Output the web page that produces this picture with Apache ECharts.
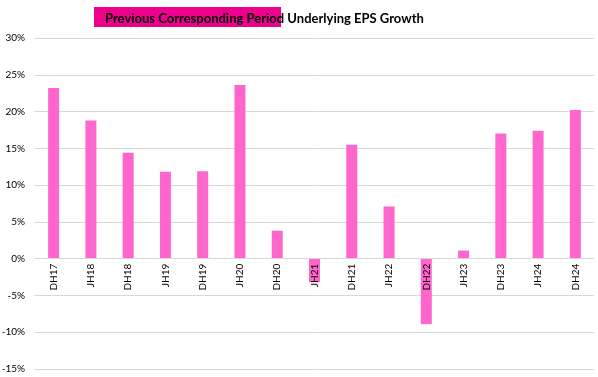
<!DOCTYPE html>
<html>
<head>
<meta charset="utf-8">
<script src="https://cdn.jsdelivr.net/npm/echarts@6/dist/echarts.min.js"></script>
<style>
	html, body { margin: 0; padding: 0; background: #fff; }
	#chart { width: 598px; height: 377px; }
</style>
</head>
<body>
<div id="chart"></div>
<script>
	var periods = [ 'DH17', 'JH18', 'DH18', 'JH19', 'DH19', 'JH20', 'DH20', 'JH21', 'DH21', 'JH22', 'DH22', 'JH23', 'DH23', 'JH24', 'DH24' ];
	// EPS growth vs previous corresponding period, in %
	var growth = [ 23.2, 18.8, 14.4, 11.8, 11.9, 23.6, 3.8, -3.2, 15.5, 7.1, -8.9, 1.1, 17.0, 17.4, 20.2 ];
	var yTicks = { min: -15, max: 30, step: 5 };

	var chart = echarts.init(document.getElementById('chart'));
	var font = 'Lato, "Open Sans", sans-serif';

	// grid box, used to put the category labels on the 0% line
	var gridTop = 38, gridBottom = 8, chartHeight = 377;
	var plotHeight = chartHeight - gridTop - gridBottom;
	var zeroOffset = plotHeight * (0 - yTicks.min) / (yTicks.max - yTicks.min);

	var options = {
		animation : false,
		title : {
			text : 'Previous Corresponding Period Underlying EPS Growth',
			left : 100,
			top : 7,
			textStyle : {
				fontFamily : font,
				fontWeight : 'bold',
				fontSize : 13,
				color : '#000'
			}
		},
		// highlighter stroke behind the title
		graphic : [ {
			type : 'rect',
			z : 0,
			shape : { x : 94, y : 7, width : 187, height : 20 },
			style : { fill : '#EC008C' }
		} ],
		grid : {
			left : 35,
			right : 4,
			top : gridTop,
			bottom : gridBottom,
			outerBoundsMode : 'none',
			containLabel : false
		},
		xAxis : {
			type : 'category',
			data : periods,
			z : 5,
			position : 'bottom',
			offset : -zeroOffset,
			axisLine : { onZero : false, lineStyle : { color : '#d9d9d9' } },
			axisTick : { show : false },
			axisLabel : {
				rotate : 90,
				interval : 0,
				margin : 5,
				fontFamily : font,
				fontSize : 10,
				color : '#000'
			}
		},
		yAxis : {
			type : 'value',
			min : yTicks.min,
			max : yTicks.max,
			interval : yTicks.step,
			axisLine : { show : false },
			axisTick : { show : false },
			axisLabel : {
				formatter : '{value}%',
				margin : 10,
				fontFamily : font,
				fontSize : 10,
				color : '#000'
			},
			splitLine : { lineStyle : { color : '#d9d9d9' } }
		},
		series : [ {
			type : 'bar',
			data : growth,
			barWidth : 11,
			itemStyle : { color : '#FF66CC' }
		} ]
	};
	chart.setOption(options);
</script>
</body>
</html>
